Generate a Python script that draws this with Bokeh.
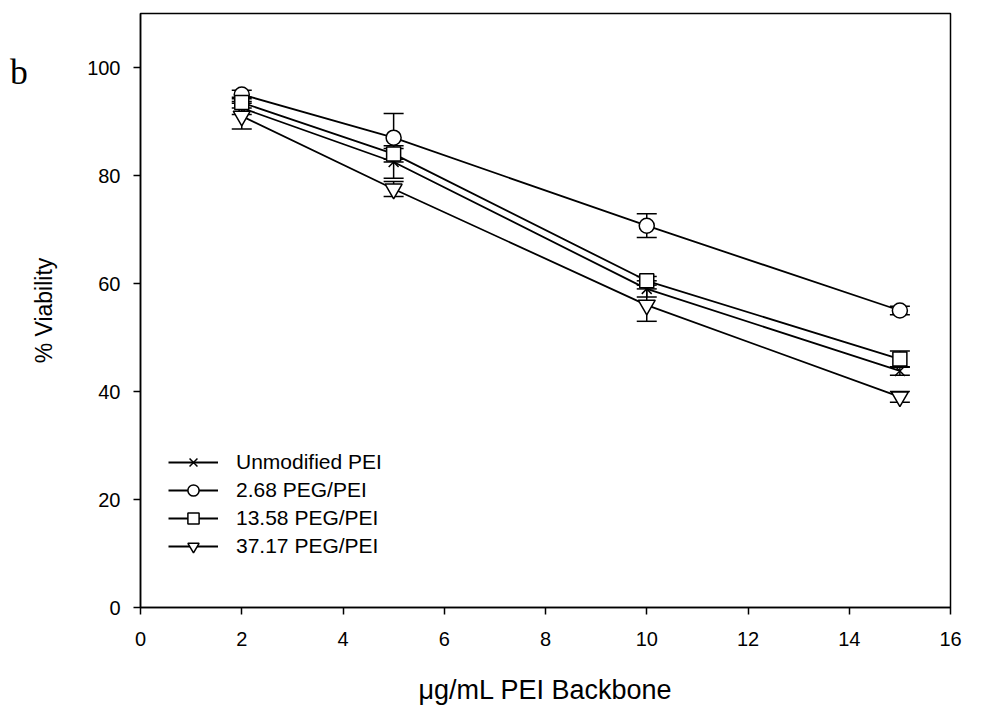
from bokeh.plotting import figure
from bokeh.models import Whisker, TeeHead, ColumnDataSource, Legend, LegendItem, SingleIntervalTicker, Div
from bokeh.layouts import row
from bokeh.embed import file_html
from bokeh.resources import INLINE

x_vals = [2, 5, 10, 15]
series_names = ["Unmodified PEI", "2.68 PEG/PEI", "13.58 PEG/PEI", "37.17 PEG/PEI"]
unmod_y = [92.5, 82.5, 59.0, 43.8]
unmod_err = [1.2, 3.0, 1.5, 0.8]
peg268_y = [95.0, 87.0, 70.7, 55.0]
peg268_err = [0.8, 4.5, 2.2, 0.8]
peg1358_y = [93.5, 84.0, 60.5, 46.0]
peg1358_err = [1.0, 1.0, 0.8, 1.5]
peg3717_y = [91.0, 77.5, 56.0, 39.0]
peg3717_err = [2.4, 1.4, 3.0, 1.0]
markers = ["x", "circle", "square", "inverted_triangle"]
marker_sizes = [14, 15, 14, 17]

FONT = "Liberation Sans"
DIV_W = 26

p = figure(width=983 - DIV_W, height=710, x_range=(0, 16), y_range=(0, 110),
           output_backend="svg", toolbar_location=None, margin=0,
           min_border_left=140 - DIV_W, min_border_right=33, min_border_top=13, min_border_bottom=103)
p.background_fill_color = "white"
p.border_fill_color = "white"
p.xgrid.visible = False
p.ygrid.visible = False
p.outline_line_color = "black"
p.outline_line_width = 1.5

p.xaxis.ticker = SingleIntervalTicker(interval=2)
p.yaxis.ticker = SingleIntervalTicker(interval=20)
for ax in (p.xaxis, p.yaxis):
    ax.axis_line_width = 1.5
    ax.major_tick_line_width = 1.5
    ax.major_tick_in = 0
    ax.major_tick_out = 7
    ax.minor_tick_line_color = None
    ax.major_label_text_font = FONT
    ax.major_label_text_font_size = "20px"
    ax.major_label_text_color = "black"
    ax.axis_label_text_font = FONT
    ax.axis_label_text_font_style = "normal"
    ax.axis_label_text_color = "black"
    ax.major_label_standoff = 13
p.xaxis.major_label_standoff = 17
p.xaxis.axis_label = "\u03bcg/mL PEI Backbone"
p.xaxis.axis_label_text_font_size = "27px"
p.xaxis.axis_label_standoff = 26
p.yaxis.axis_label = "% Viability"
p.yaxis.axis_label_text_font_size = "23px"
p.yaxis.axis_label_standoff = 27

ys = [unmod_y, peg268_y, peg1358_y, peg3717_y]
errs = [unmod_err, peg268_err, peg1358_err, peg3717_err]
items = []
for name, yv, ev, mk, ms in zip(series_names, ys, errs, markers, marker_sizes):
    src = ColumnDataSource(dict(x=x_vals, y=yv,
                                lower=[a - b for a, b in zip(yv, ev)],
                                upper=[a + b for a, b in zip(yv, ev)]))
    ln = p.line("x", "y", source=src, line_color="black", line_width=1.8)
    w = Whisker(source=src, base="x", lower="lower", upper="upper",
                line_color="black", line_width=1.5,
                upper_head=TeeHead(size=20, line_color="black", line_width=1.5),
                lower_head=TeeHead(size=20, line_color="black", line_width=1.5))
    p.add_layout(w)
    sc = p.scatter("x", "y", source=src, marker=mk, size=ms,
                   fill_color="white", line_color="black", line_width=1.5)
    items.append(LegendItem(label=name, renderers=[ln, sc]))

legend = Legend(items=items, location=(28, 47), border_line_color=None,
                background_fill_alpha=0, padding=0, margin=0, spacing=0,
                glyph_width=50, glyph_height=28, label_height=28, label_standoff=18,
                label_text_font=FONT, label_text_font_size="21px",
                label_text_color="black")
p.add_layout(legend)

panel_label = Div(text='<div style="margin-left:10px;margin-top:54px;font-family:\'Liberation Serif\';'
                       'font-size:36px;line-height:36px;color:black">b</div>',
                  width=DIV_W, height=710, margin=0, styles={"overflow": "visible"})

layout = row(panel_label, p, spacing=0)
open("out.html", "w").write(file_html(layout, INLINE))
